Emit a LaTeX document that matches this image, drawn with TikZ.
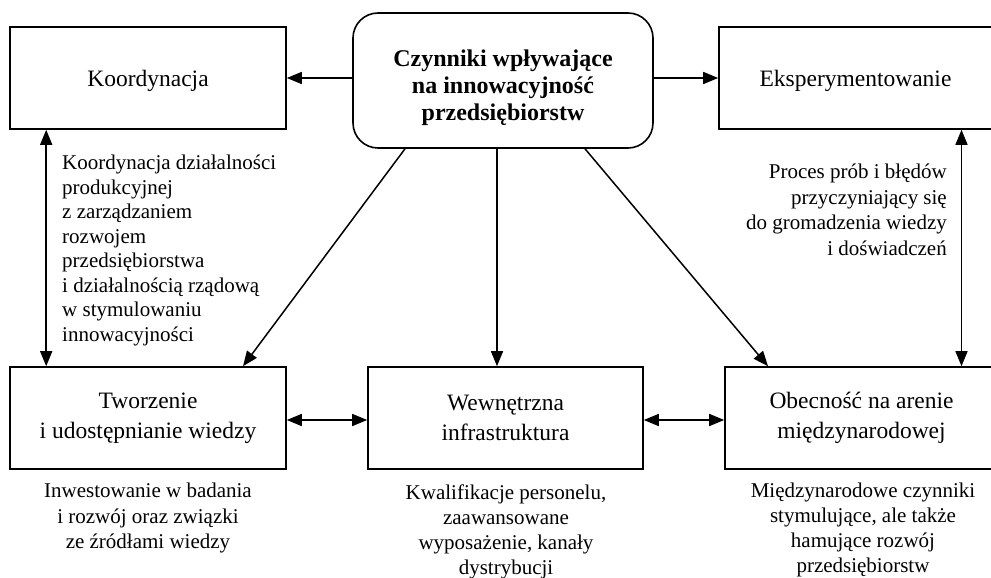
\documentclass[tikz,border=0pt]{standalone}
\usepackage{fontspec}
\setmainfont{Liberation Serif}
\usetikzlibrary{arrows.meta}

\begin{document}
\begin{tikzpicture}[x=1pt,y=-1pt,
  box/.style={draw,line width=1.6pt,inner sep=0pt,align=center,
    font=\fontsize{23.5}{30}\selectfont},
  note/.style={inner sep=0pt,font=\fontsize{21}{25.5}\selectfont},
  link/.style={line width=1.5pt,-{Triangle[length=15pt,width=12pt]}},
  link2/.style={line width=1.5pt,{Triangle[length=15pt,width=12pt]}-{Triangle[length=15pt,width=12pt]}}]
\useasboundingbox (0,0) rectangle (991,578);

% boxes
\node [box,rounded corners=25pt,minimum width=300pt,minimum height=135pt,
  label={[align=center,yshift=-7pt,font=\fontsize{24}{27}\selectfont\bfseries]center:
  Czynniki wpływające\\na innowacyjność\\przedsiębiorstw}] (czynniki) at (503,80.5) {};
\node [box,minimum width=276pt,minimum height=102pt,text depth=-2pt] (koord) at (148,78) {Koordynacja};
\node [box,minimum width=273pt,minimum height=102pt,text depth=-2pt] (eksp) at (855.5,78) {Eksperymentowanie};
\node [box,minimum width=276pt,minimum height=102pt] (tworz) at (148,418) {Tworzenie\\i udostępnianie wiedzy};
\node [box,minimum width=275pt,minimum height=102pt] (wewn) at (505.5,418) {Wewnętrzna\\infrastruktura};
\node [box,minimum width=273pt,minimum height=102pt] (obec) at (861.5,418) {Obecność na arenie\\międzynarodowej};

% notes
\node [note,align=left,anchor=north west,font=\fontsize{21}{24.5}\selectfont] (koordnote) at (62,155)
  {Koordynacja działalności\\produkcyjnej\\z zarządzaniem\\rozwojem\\przedsiębiorstwa\\i działalnością rządową\\w stymulowaniu\\innowacyjności};
\node [note,align=right,anchor=north east] (eksptnote) at (947,164)
  {Proces prób i błędów\\przyczyniający się\\do gromadzenia wiedzy\\i doświadczeń};
\node [note,align=center,anchor=north] (tworznote) at (148,483)
  {Inwestowanie w badania\\i rozwój oraz związki\\ze źródłami wiedzy};
\node [note,align=center,anchor=north,font=\fontsize{21}{25}\selectfont] (wewnnote) at (506,485)
  {Kwalifikacje personelu,\\zaawansowane\\wyposażenie, kanały\\dystrybucji};
\node [note,align=center,anchor=north,font=\fontsize{21}{25}\selectfont] (obecnote) at (863,483)
  {Międzynarodowe czynniki\\stymulujące, ale także\\hamujące rozwój\\przedsiębiorstw};

% arrows
\draw [link] (czynniki.west |- koord) -- (koord.east);
\draw [link] (czynniki.east |- eksp) -- (eksp.west);
\draw [link] ([xshift=-98pt]czynniki.south) -- ([xshift=95pt]tworz.north);
\draw [link] ([xshift=-6pt]czynniki.south) -- ([xshift=-6pt]czynniki.south |- wewn.north);
\draw [link] ([xshift=82pt]czynniki.south) -- ([xshift=-93.5pt]obec.north);
\draw [link2] ([xshift=37pt]koord.south west) -- ([xshift=37pt]tworz.north west);
\draw [link2] ([xshift=106pt]eksp.south) -- ([xshift=106pt]eksp.south |- obec.north);
\draw [link2] ([yshift=-2pt]tworz.east) -- ([yshift=-2pt]wewn.west);
\draw [link2] ([yshift=-2pt]wewn.east) -- ([yshift=-2pt]obec.west);
\end{tikzpicture}
\end{document}
